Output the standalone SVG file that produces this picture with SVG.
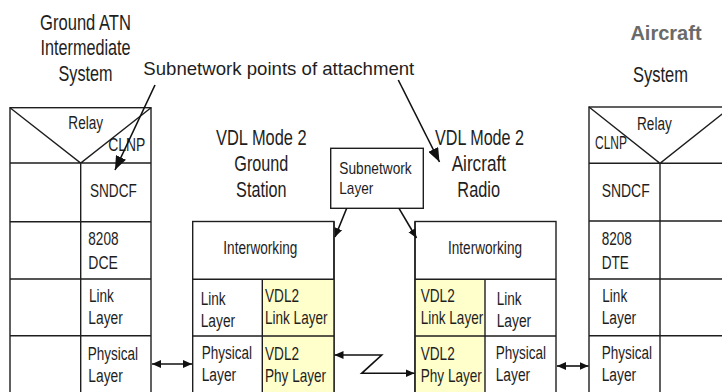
<svg xmlns="http://www.w3.org/2000/svg" width="722" height="392" viewBox="0 0 722 392">
<style>
text{font-family:"Liberation Sans",Arial,sans-serif;fill:#1e1e1e}
.c{font-size:18px}
.b{font-size:21.5px;text-anchor:middle}
.m{text-anchor:middle}
.box{fill:#fff;stroke:#1e1e1e;stroke-width:1.4}
.ln{fill:none;stroke:#1e1e1e;stroke-width:1.4}
.y{fill:#ffffcc;stroke:none}
.ar{fill:none;stroke:#111;stroke-width:1.6}
</style>
<defs>
<marker id="sm" viewBox="0 0 9 9" refX="9" refY="4.5" markerWidth="9" markerHeight="9" markerUnits="userSpaceOnUse" orient="auto-start-reverse"><path d="M0,0.5 L9,4.5 L0,8.5 z" fill="#111"/></marker>
<marker id="lg" viewBox="0 0 14 11" refX="14" refY="5.5" markerWidth="14" markerHeight="11" markerUnits="userSpaceOnUse" orient="auto"><path d="M0,0 L14,5.5 L0,11 z" fill="#111"/></marker>
</defs>
<rect width="722" height="392" fill="#fff"/>

<g id="title-ground-atn">
<text class="b" x="85.5" y="29.5" textLength="90.9" lengthAdjust="spacingAndGlyphs">Ground ATN</text>
<text class="b" x="85.5" y="55" textLength="90" lengthAdjust="spacingAndGlyphs">Intermediate</text>
<text class="b" x="85.5" y="81" textLength="54" lengthAdjust="spacingAndGlyphs">System</text>
</g>

<g id="title-aircraft-system">
<text x="666" y="40" style="font-size:20px;font-weight:bold;fill:#6a6a6a;text-anchor:middle">Aircraft</text>
<text class="b" x="660.5" y="82" textLength="55" lengthAdjust="spacingAndGlyphs">System</text>
</g>

<g id="label-subnetwork-points">
<text x="143.3" y="75" style="font-size:18.6px" textLength="271" lengthAdjust="spacingAndGlyphs">Subnetwork points of attachment</text>
</g>

<g id="ground-atn-is">
<rect class="box" x="10" y="107.7" width="141" height="300"/>
<path class="ln" d="M10,107.7 L80.7,163 L151,107.7 M10,163 H151 M10,221.7 H151 M10,279 H151 M10,335.7 H151 M80.7,163 V400"/>
<text class="c" x="68.3" y="129" textLength="34.8" lengthAdjust="spacingAndGlyphs">Relay</text>
<text class="c" x="108.3" y="150.7" textLength="37" lengthAdjust="spacingAndGlyphs">CLNP</text>
<text class="c" x="90" y="196.7" textLength="46.8" lengthAdjust="spacingAndGlyphs">SNDCF</text>
<text class="c" x="88.3" y="245" textLength="30.2" lengthAdjust="spacingAndGlyphs">8208</text>
<text class="c" x="88.3" y="268.5" textLength="29.5" lengthAdjust="spacingAndGlyphs">DCE</text>
<text class="c" x="89" y="301.7" textLength="24.9" lengthAdjust="spacingAndGlyphs">Link</text>
<text class="c" x="88.3" y="324" textLength="34.5" lengthAdjust="spacingAndGlyphs">Layer</text>
<text class="c" x="87.7" y="360" textLength="50.3" lengthAdjust="spacingAndGlyphs">Physical</text>
<text class="c" x="88.3" y="382" textLength="34.5" lengthAdjust="spacingAndGlyphs">Layer</text>
</g>

<g id="title-ground-station">
<text class="b" x="261.3" y="144.5" textLength="90.5" lengthAdjust="spacingAndGlyphs">VDL Mode 2</text>
<text class="b" x="261.3" y="170.5" textLength="54" lengthAdjust="spacingAndGlyphs">Ground</text>
<text class="b" x="261.3" y="196.5" textLength="50.4" lengthAdjust="spacingAndGlyphs">Station</text>
</g>

<g id="vdl2-ground-station">
<rect class="box" x="192.7" y="221.5" width="141.3" height="190"/>
<rect class="y" x="262.3" y="279.3" width="71.7" height="130"/>
<path class="ln" d="M192.7,279.3 H334 M192.7,336 H334 M262.3,279.3 V400 M334,221.5 V400"/>
<text class="c m" x="260.3" y="254" textLength="74" lengthAdjust="spacingAndGlyphs">Interworking</text>
<text class="c" x="200.7" y="305" textLength="24.9" lengthAdjust="spacingAndGlyphs">Link</text>
<text class="c" x="200.7" y="327" textLength="34.5" lengthAdjust="spacingAndGlyphs">Layer</text>
<text class="c" x="265" y="301.5" textLength="34" lengthAdjust="spacingAndGlyphs">VDL2</text>
<text class="c" transform="translate(265,323.5) scale(0.753,1)">Link Layer</text>
<text class="c" x="201.7" y="359" textLength="50.3" lengthAdjust="spacingAndGlyphs">Physical</text>
<text class="c" x="201.7" y="381" textLength="34.5" lengthAdjust="spacingAndGlyphs">Layer</text>
<text class="c" x="265" y="359.7" textLength="34" lengthAdjust="spacingAndGlyphs">VDL2</text>
<text class="c" transform="translate(265,381.7) scale(0.755,1)">Phy Layer</text>
</g>

<g id="subnetwork-layer">
<rect class="box" x="330.7" y="148.3" width="92.6" height="60"/>
<text x="339.3" y="174" style="font-size:17px" textLength="72.4" lengthAdjust="spacingAndGlyphs">Subnetwork</text>
<text x="339.3" y="194.3" style="font-size:17px" textLength="34" lengthAdjust="spacingAndGlyphs">Layer</text>
</g>

<g id="title-aircraft-radio">
<text class="b" x="479.5" y="144.5" textLength="89" lengthAdjust="spacingAndGlyphs">VDL Mode 2</text>
<text class="b" x="478.8" y="170.5" textLength="54.3" lengthAdjust="spacingAndGlyphs">Aircraft</text>
<text class="b" x="478.7" y="196.5" textLength="42.7" lengthAdjust="spacingAndGlyphs">Radio</text>
</g>

<g id="vdl2-aircraft-radio">
<rect class="box" x="415" y="221.5" width="141" height="190"/>
<rect class="y" x="415.7" y="279.3" width="69.3" height="130"/>
<path class="ln" d="M415,279.3 H556 M415,336 H556 M485,279.3 V400 M415,221.5 V400"/>
<text class="c m" x="485" y="254" textLength="74" lengthAdjust="spacingAndGlyphs">Interworking</text>
<text class="c" x="420.7" y="301.5" textLength="34" lengthAdjust="spacingAndGlyphs">VDL2</text>
<text class="c" transform="translate(420.7,323.5) scale(0.753,1)">Link Layer</text>
<text class="c" x="496.7" y="305" textLength="24.9" lengthAdjust="spacingAndGlyphs">Link</text>
<text class="c" x="496.7" y="327" textLength="34.5" lengthAdjust="spacingAndGlyphs">Layer</text>
<text class="c" x="420.7" y="359.7" textLength="34" lengthAdjust="spacingAndGlyphs">VDL2</text>
<text class="c" transform="translate(420.7,381.7) scale(0.755,1)">Phy Layer</text>
<text class="c" x="495.7" y="359" textLength="50.3" lengthAdjust="spacingAndGlyphs">Physical</text>
<text class="c" x="495.7" y="381" textLength="34.5" lengthAdjust="spacingAndGlyphs">Layer</text>
</g>

<g id="aircraft-system">
<rect class="box" x="589" y="107" width="142" height="300"/>
<path class="ln" d="M589,107 L660,163.3 L731,107 M589,163.3 H731 M589,221 H731 M589,279 H731 M589,335.7 H731 M660,163.3 V400"/>
<text class="c" x="637" y="129.5" textLength="34.8" lengthAdjust="spacingAndGlyphs">Relay</text>
<text class="c" x="595" y="148.5" textLength="32" lengthAdjust="spacingAndGlyphs">CLNP</text>
<text class="c" x="601.7" y="196.7" textLength="48" lengthAdjust="spacingAndGlyphs">SNDCF</text>
<text class="c" x="601.7" y="245" textLength="30.2" lengthAdjust="spacingAndGlyphs">8208</text>
<text class="c" x="601.7" y="268.5" textLength="27.2" lengthAdjust="spacingAndGlyphs">DTE</text>
<text class="c" x="602.3" y="301.7" textLength="24.9" lengthAdjust="spacingAndGlyphs">Link</text>
<text class="c" x="601.7" y="324" textLength="34.5" lengthAdjust="spacingAndGlyphs">Layer</text>
<text class="c" x="601.7" y="358.5" textLength="50.3" lengthAdjust="spacingAndGlyphs">Physical</text>
<text class="c" x="601.7" y="381" textLength="34.5" lengthAdjust="spacingAndGlyphs">Layer</text>
</g>

<g id="connectors">
<line class="ar" x1="155" y1="85" x2="115" y2="170" marker-end="url(#lg)"/>
<line class="ar" x1="398.3" y1="80" x2="439.5" y2="162" marker-end="url(#lg)"/>
<line class="ar" x1="346.7" y1="208.3" x2="335" y2="237" marker-end="url(#sm)"/>
<line class="ar" x1="399" y1="208.3" x2="416.5" y2="238" marker-end="url(#sm)"/>
<line class="ar" x1="152" y1="364" x2="192" y2="364" marker-start="url(#sm)" marker-end="url(#sm)"/>
<line class="ar" x1="557" y1="366" x2="588.5" y2="366" marker-start="url(#sm)" marker-end="url(#sm)"/>
<polyline class="ar" points="334.5,355 381.7,355 361.7,373.3 414.5,373.3" marker-start="url(#sm)" marker-end="url(#sm)"/>
</g>
</svg>
